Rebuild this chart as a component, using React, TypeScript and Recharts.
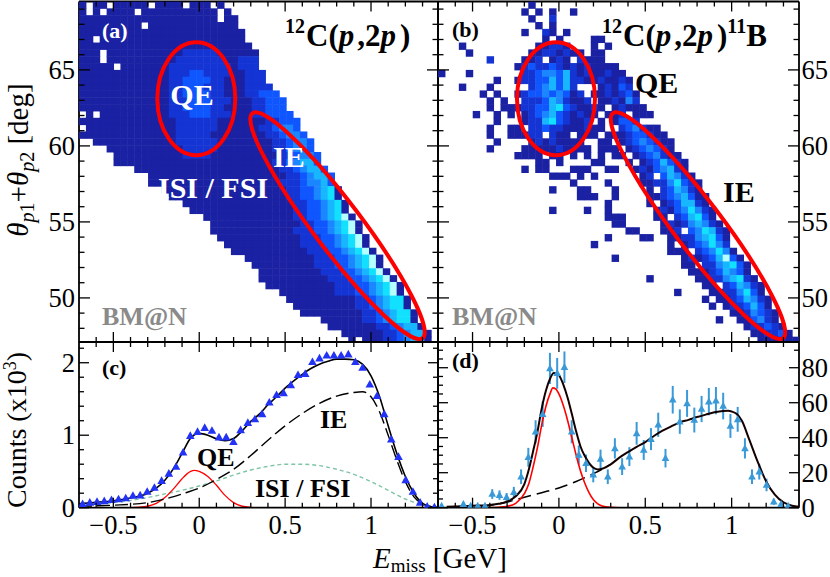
import React from 'react';
import {ComposedChart, Scatter, Line, XAxis, YAxis, ReferenceDot, ErrorBar} from 'recharts';

const W = 830;
const H = 577;
const FONT = "'Liberation Serif', 'Times New Roman', serif";

// panel edges in page pixels
const LEFT = 79;
const MID = 438;
const RIGHT = 799;
const TOP = 1.5;
const SPLIT = 342;
const BOTTOM = 507.7;

const E_MIN = -0.7;
const E_MAX = 1.39;
const TH_MIN = 47.1;
const TH_MAX = 69.5;
const E_BIN = 0.0402;
const TH_BIN = 0.45;

const X_TICKS = [-0.6, -0.5, -0.4, -0.3, -0.2, -0.1, 0, 0.1, 0.2, 0.3, 0.4, 0.5, 0.6, 0.7, 0.8, 0.9, 1, 1.1, 1.2, 1.3];
const X_MAJOR = [-0.5, 0, 0.5, 1];
const TH_TICKS = [48, 49, 50, 51, 52, 53, 54, 55, 56, 57, 58, 59, 60, 61, 62, 63, 64, 65, 66, 67, 68, 69];
const TH_MAJOR = [50, 55, 60, 65];
const C_TICKS = [0, 0.2, 0.4, 0.6, 0.8, 1, 1.2, 1.4, 1.6, 1.8, 2, 2.2];
const C_MAJOR = [0, 1, 2];
const D_TICKS_L = [0, 5, 10, 15, 20, 25, 30, 35, 40, 45, 50, 55, 60, 65, 70, 75, 80, 85, 90];
const D_TICKS_R = [0, 10, 20, 30, 40, 50, 60, 70, 80, 90];
const D_MAJOR = [0, 20, 40, 60, 80];

// colour levels of the 2D histograms ('.' = empty bin)
const PALETTE = ['#ffffff', '#1a21a3', '#1434d4', '#0f56ff', '#1a86ff', '#18b6ff', '#12e0ff', '#b4ffff'];

// 12C(p,2p): one string per theta row (top row first), 0.04 GeV columns in groups of ten
const MAP_A = [
  '1.11.11111 .1111.111. 1',
  '1.1.1111.1 1111111111 .1',
  '1111111111 1111111111 .11',
  '111111111. 1111111111 111',
  '1111111111 1111111111 1111',
  '11.1111111 1111111111 1111',
  '1111111111 1111111111 11111',
  '111.111111 1111122222 111111',
  '111.111111 1111222222 211222',
  '11111.1111 1112222222 221222',
  '1111111111 1112223322 2211222',
  '1111111111 1112233332 2111222',
  '1111111111 1112233322 21112222',
  '1111111111 1112233332 211122333',
  '1111111111 1112223332 2211122333',
  '1111111111 1112233332 2111122333',
  '.1.1111111 1112223332 2211122333 3',
  '1111111111 1111222222 1111111223 33',
  '.111111111 1111222222 1111112234 43',
  '1111111111 1111222221 1111111223 443',
  '..11111111 1111222222 1111111122 3443',
  '....111111 1111122222 1111111122 3443',
  '.....11111 1111122221 1111111112 23443',
  '.....11111 1111111111 1111111122 34553',
  '........11 1111111111 1111111112 234553',
  '.......... 1111111111 1111111111 2234553',
  '.......... 1111111111 1111111112 2234453',
  '.......... ..11111111 1111111111 22334561',
  '.......... ...1111111 1111111111 22334561',
  '.......... .....11111 1111111111 122334561',
  '.......... ......1111 1111111111 122334561',
  '.......... ........11 1111111111 1223345671',
  '.......... .........1 1111111111 1122334567 1',
  '.......... .........1 1111111111 1222334567 1',
  '.......... .......... 1111111111 1122233456 71',
  '.......... .......... .111111111 1122233456 71',
  '.......... .......... ..11111111 1112223345 671',
  '.......... .......... ....111111 1111222334 5671',
  '.......... .......... .....11111 1111222334 5671',
  '.......... .......... ......1111 1111122233 45671',
  '.......... .......... ......1111 1111112223 345671',
  '.......... .......... .......111 1111111222 3345671',
  '.......... .......... .........1 1111111222 3345671',
  '.......... .......... .......... 1111111111 22345661',
  '.......... .......... .......... .111111111 22345661',
  '.......... .......... .......... ..11111111 122345661',
  '.......... .......... .......... .....11111 122345661',
  '.......... .......... .......... ......1111 1112234551',
  '.......... .......... .......... ........11 1111223455 1',
  '.......... .......... .......... .........1 .111223455 1',
];

// 12C(p,2p)11B
const MAP_B = [
  '.......... ...1',
  '.......... ..1.1.1..1',
  '.......... ...1..2',
  '.......... ....1.1',
  '.......... ..1..21.1',
  '.......... .....1.1.. ..11',
  '...1...... ....11221. ..1.1',
  '....1..... ...1122121 1.11',
  '.......2.. ..112.121. 2111',
  '.......... .123223212 121111',
  '1...1..... ..22344352 1211211',
  '........1. .122335352 21121121',
  '...1...1.. ...2345352 ...12132',
  '......1.1. .123343431 2.1121231',
  '.......1.1 ..22235421 12.112142',
  '.......1.1 1122335632 1121.12111',
  '.....1..1. 1.12345321 211.112.11 1',
  '........1. ..12256321 12.1.1332.',
  '.......1.. 11.2232211 1211..2342 11',
  '.......1.. 11122.211. 111.111233 211',
  '........1. ...1212111 1..11.1234 3211',
  '.......1.. ..11111211 11.111.123 4321',
  '.......... .1111.11.1 .1.1.11.12 34211',
  '.......... ....11.1.. ..11...1.1 235321',
  '.......... ..1.11...1 11..11..12 134521',
  '.......... ......111. 1.1......1 2.35421',
  '.......... .........1 ....1....1 12246321',
  '.......... ......1... 11...1.... 1.235421',
  '.......... .......... 111..1.... 112345311',
  '.......... .......... ....1..... 1.1235521',
  '.......... ......1... .1..1..... .121346421',
  '.......... .......... ....111... .11.235631',
  '.......... .......... .....11... ..12124542 1',
  '.......... .......... .......11. ..112.3465 21',
  '.......... .......... ....1....1 1..1122456 31',
  '.......... .......... ..1....... ...1.12346 42',
  '.......... .......... .......... ...111.234 641',
  '.......... .......... .....1.... .....12123 5731',
  '.......... .......... .......... .....11.22 45631',
  '.......... .......... .......... ......1112 35431',
  '.......... .......... .......... 1......112 245621',
  '.......... .......... .......... ........11 .235421',
  '.......... .......... .......... ....1....1 1224631',
  '.......... .......... .......... ........1. 11235421',
  '.......... .......... .......... .........1 .1223531',
  '.......... .......... .......... .......... ..1124321',
  '.......... .......... .......... .......... 1..113421',
  '.......... .......... .......... .......... ....122321',
  '.......... .......... .......... .......... .....11223 1',
  '.......... .......... .......... .......... ......1112 11',
];

// 1D projections: bin centres and contents
const BIN_E = [
  -0.679, -0.637, -0.595, -0.553, -0.511, -0.47, -0.428, -0.386, -0.344, -0.303,
  -0.261, -0.219, -0.177, -0.135, -0.094, -0.052, -0.01, 0.032, 0.074, 0.115,
  0.157, 0.199, 0.241, 0.283, 0.324, 0.366, 0.408, 0.45, 0.491, 0.533,
  0.575, 0.617, 0.659, 0.7, 0.742, 0.784, 0.826, 0.868, 0.909, 0.951,
  0.993, 1.035, 1.077, 1.118, 1.16, 1.202, 1.244, 1.286, 1.327, 1.369,
];
const COUNTS_C = [
  0.05, 0.07, 0.08, 0.09, 0.105, 0.115, 0.13, 0.165, 0.17, 0.22,
  0.275, 0.37, 0.47, 0.565, 0.76, 0.99, 1.045, 1.1, 1.06, 0.97,
  0.97, 0.905, 1.07, 1.17, 1.22, 1.29, 1.45, 1.555, 1.58, 1.69,
  1.83, 1.845, 2.01, 2.06, 2.1, 2.1, 2.1, 2.115, 2.01, 1.93,
  1.7, 1.54, 1.29, 0.94, 0.7, 0.38, 0.22, 0.07, 0.015, 0.005,
];
const COUNTS_D = [
  1, null, null, 2, 1, 1, 1, 7.8, 7.2, 6,
  8.9, 17.7, 28.8, 43.4, 53.5, 79.6, 76.8, 80.3, 43.4, 30.1,
  25.4, 18.8, 27.9, 17.7, 33.9, 23.5, 29.2, 42.5, 33, 39.2,
  47.4, 28.3, 61.7, 49.2, 59.6, 50.1, 56.4, 60.6, 61.2, 58.1,
  46.7, 50.5, 33.9, 17.7, 20.6, 13, 3.4, 2, 1, null,
];
const ERR_D = [
  1, 0, 0, 1.4, 1, 1, 1, 2.8, 2.7, 2.4,
  3, 4.2, 5.4, 6.6, 7.3, 8.9, 8.8, 9, 6.6, 5.5,
  5, 4.3, 5.3, 4.2, 5.8, 4.8, 5.4, 6.5, 5.7, 6.3,
  6.9, 5.3, 7.9, 7, 7.7, 7.1, 7.5, 7.8, 7.8, 7.6,
  6.8, 7.1, 5.8, 4.2, 4.5, 3.6, 1.8, 1.4, 1, 0,
];

// fit curves of panel (c), counts x10^3
const C_TOTAL_E = [-0.7, -0.6, -0.5, -0.4, -0.3, -0.25, -0.2, -0.15, -0.1, -0.05, 0, 0.05, 0.1, 0.15, 0.2, 0.25, 0.3, 0.35, 0.4, 0.45, 0.5, 0.55, 0.6, 0.65, 0.7, 0.75, 0.8, 0.85, 0.9, 0.95, 1.0, 1.05, 1.1, 1.15, 1.2, 1.25, 1.3, 1.35, 1.39];
const C_TOTAL = [0.055, 0.074, 0.097, 0.133, 0.2, 0.27, 0.38, 0.54, 0.75, 0.96, 1.025, 1.0, 0.95, 0.925, 0.955, 1.06, 1.19, 1.29, 1.42, 1.53, 1.65, 1.75, 1.84, 1.92, 1.98, 2.02, 2.05, 2.05, 2.04, 1.98, 1.82, 1.53, 1.13, 0.75, 0.43, 0.2, 0.06, 0.014, 0.004];
const C_IE_E = [-0.7, -0.5, -0.3, -0.2, -0.1, 0, 0.1, 0.2, 0.3, 0.4, 0.5, 0.6, 0.7, 0.8, 0.9, 0.95, 1.0, 1.05, 1.1, 1.15, 1.2, 1.25, 1.3, 1.35, 1.39];
const C_IE = [0.02, 0.035, 0.07, 0.12, 0.19, 0.27, 0.39, 0.53, 0.72, 0.93, 1.13, 1.3, 1.44, 1.54, 1.59, 1.6, 1.53, 1.32, 1.0, 0.66, 0.36, 0.15, 0.05, 0.012, 0.003];
const C_QE_E = [-0.7, -0.4, -0.35, -0.3, -0.25, -0.2, -0.15, -0.1, -0.05, -0.03, 0, 0.05, 0.1, 0.15, 0.2, 0.25, 0.3, 0.35];
const C_QE = [0, 0.002, 0.006, 0.02, 0.06, 0.14, 0.26, 0.4, 0.5, 0.515, 0.5, 0.43, 0.31, 0.17, 0.07, 0.02, 0.005, 0];
const C_ISI_E = [-0.7, -0.6, -0.5, -0.4, -0.3, -0.2, -0.1, 0, 0.1, 0.2, 0.3, 0.4, 0.5, 0.6, 0.7, 0.8, 0.9, 1.0, 1.1, 1.2, 1.3, 1.39];
const C_ISI = [0.035, 0.05, 0.07, 0.1, 0.14, 0.19, 0.24, 0.3, 0.37, 0.45, 0.52, 0.57, 0.6, 0.6, 0.58, 0.53, 0.46, 0.36, 0.24, 0.12, 0.04, 0.005];

// fit curves of panel (d), counts
const D_TOTAL_E = [-0.65, -0.5, -0.4, -0.35, -0.3, -0.25, -0.2, -0.175, -0.15, -0.125, -0.1, -0.075, -0.05, -0.03, -0.01, 0, 0.025, 0.05, 0.075, 0.1, 0.125, 0.15, 0.175, 0.2, 0.225, 0.25, 0.3, 0.35, 0.4, 0.45, 0.5, 0.55, 0.6, 0.65, 0.7, 0.75, 0.8, 0.85, 0.9, 0.95, 0.98, 1.0, 1.03, 1.06, 1.1, 1.15, 1.2, 1.25, 1.3, 1.35, 1.39];
const D_TOTAL = [0.6, 1.1, 1.6, 2.2, 3.5, 6.5, 13.5, 21.5, 32, 43, 56.5, 67, 74, 77, 76.5, 75.8, 70.5, 63, 53.5, 43.5, 35, 29.5, 25.5, 22.8, 21.9, 22.3, 24.8, 28.6, 31.8, 34.8, 37.5, 41, 44, 46.5, 48.8, 50.2, 51.8, 53.2, 54.5, 55.3, 55.4, 55, 53.5, 49.5, 39.5, 26.5, 15, 7.5, 3.1, 1.1, 0.5];
const D_QE_E = [-0.64, -0.4, -0.35, -0.3, -0.25, -0.2, -0.175, -0.15, -0.125, -0.1, -0.075, -0.05, -0.035, -0.02, 0, 0.025, 0.05, 0.075, 0.1, 0.125, 0.15, 0.175, 0.2, 0.225, 0.25, 0.3, 0.35, 1.39];
const D_QE = [0, 0.1, 0.3, 0.8, 2.5, 8, 13.5, 23, 34, 47, 58, 65.5, 68.5, 68, 65, 58.5, 50, 40, 30, 21, 14, 8.5, 4.5, 2.2, 1, 0.2, 0, 0];
const D_IE_E = [-0.45, -0.4, -0.3, -0.2, -0.1, 0, 0.1, 0.2, 0.25, 0.3];
const D_IE = [0.8, 1.3, 3.2, 6, 8.6, 11.3, 15, 19.5, 22, 24.8];

const pairs = (xs: number[], ys: number[]) => xs.map((x, i) => ({x, y: ys[i]}));

function parseMap(rows: string[]) {
  const cells: {x: number; y: number; lvl: number}[] = [];
  rows.forEach((row, r) => {
    const s = row.replace(/ /g, '');
    for (let c = 0; c < s.length; c++) {
      if (s[c] === '.') continue;
      cells.push({x: E_MIN + (c + 0.5) * E_BIN, y: TH_MAX - (r + 0.5) * TH_BIN, lvl: Number(s[c])});
    }
  });
  return cells;
}

const cellsA = parseMap(MAP_A);
const cellsB = parseMap(MAP_B);
const pointsC = BIN_E.map((x, i) => ({x, y: COUNTS_C[i]}));
const pointsD = BIN_E.map((x, i) => ({x, y: COUNTS_D[i], err: ERR_D[i]})).filter(p => p.y !== null);

type Side = 'bottom' | 'top' | 'left' | 'right';
const isMajor = (v: number, majors: number[]) => majors.some(m => Math.abs(m - v) < 1e-6);
const fmt = (v: number) => (v < 0 ? '\u2212' + Math.abs(v) : String(v));
const TICK_FONT = {fontFamily: FONT, fontSize: 26.5, fill: '#000'};

function makeTick(side: Side, majors: number[], len: number, withLabel: boolean) {
  return (props: any) => {
    const {x, y, payload} = props;
    const v = payload.value as number;
    const major = isMajor(v, majors);
    const L = major ? len : len * 0.5;
    const x2 = side === 'left' ? x + L : side === 'right' ? x - L : x;
    const y2 = side === 'bottom' ? y - L : side === 'top' ? y + L : y;
    let label = null;
    if (withLabel && major) {
      if (side === 'bottom') label = <text x={x} y={y + 26.5} textAnchor="middle" {...TICK_FONT}>{fmt(v)}</text>;
      if (side === 'left') label = <text x={x - 4} y={y + 9} textAnchor="end" {...TICK_FONT}>{fmt(v)}</text>;
      if (side === 'right') label = <text x={x + 2.5} y={y + 9} textAnchor="start" {...TICK_FONT}>{fmt(v)}</text>;
    }
    return (
      <g>
        <line x1={x} y1={y} x2={x2} y2={y2} stroke="#000" strokeWidth={1.3} />
        {label}
      </g>
    );
  };
}

// axes get 1px of room (an axis of zero size is not drawn), taken out of the margins
function Panel({edges, yDomain, yTicksL, yTicksR, yMajor, yLen, xLabels, yLabelSide, children}: any) {
  const margin = {left: edges.left - 1, right: W - edges.right - 1, top: edges.top - 1, bottom: H - edges.bottom - 1};
  const common = {
    type: 'number' as const,
    allowDataOverflow: true,
    interval: 0 as const,
    tickSize: 0,
    tickMargin: 0,
    tickLine: false,
    axisLine: {stroke: '#000', strokeWidth: 1.8},
  };
  return (
    <div style={{position: 'absolute', left: 0, top: 0}}>
      <ComposedChart width={W} height={H} margin={margin}>
        <XAxis xAxisId="b" dataKey="x" orientation="bottom" height={1} domain={[E_MIN, E_MAX]} ticks={X_TICKS}
          tick={makeTick('bottom', X_MAJOR, 10, xLabels)} {...common} />
        <XAxis xAxisId="t" dataKey="x" orientation="top" height={1} domain={[E_MIN, E_MAX]} ticks={X_TICKS}
          tick={makeTick('top', X_MAJOR, 10, false)} {...common} />
        <YAxis yAxisId="l" orientation="left" width={1} domain={yDomain} ticks={yTicksL}
          tick={makeTick('left', yMajor, yLen, yLabelSide === 'left')} {...common} />
        <YAxis yAxisId="r" orientation="right" width={1} domain={yDomain} ticks={yTicksR}
          tick={makeTick('right', yMajor, yLen, yLabelSide === 'right')} {...common} />
        {children}
      </ComposedChart>
    </div>
  );
}

const cellShape = (plotW: number) => {
  const cw = (plotW * E_BIN) / (E_MAX - E_MIN);
  const ch = ((SPLIT - TOP) * TH_BIN) / (TH_MAX - TH_MIN);
  return (p: any) => (
    <rect x={p.cx - cw / 2} y={p.cy - ch / 2} width={cw + 0.5} height={ch + 0.5} fill={PALETTE[p.payload.lvl]} />
  );
};

const qeEllipse = (p: any) => (
  <ellipse cx={p.cx} cy={p.cy} rx={39} ry={56.5} fill="none" stroke="#ff0000" strokeWidth={4} />
);
const ieEllipse = (p: any) => (
  <ellipse cx={p.cx} cy={p.cy} rx={141} ry={24} transform={`rotate(52.9 ${p.cx} ${p.cy})`}
    fill="none" stroke="#ff0000" strokeWidth={4} />
);

const triC = (p: any) => (
  <polygon points={`${p.cx},${p.cy - 4.6} ${p.cx - 4.3},${p.cy + 3} ${p.cx + 4.3},${p.cy + 3}`} fill="#2233f5" />
);
const triD = (p: any) => (
  <polygon points={`${p.cx},${p.cy - 4.2} ${p.cx - 3.8},${p.cy + 2.8} ${p.cx + 3.8},${p.cy + 2.8}`} fill="#3a9ad8" />
);

function map2D(cells: any[], plotW: number) {
  return [
    <Scatter key="cells" xAxisId="b" yAxisId="l" data={cells} dataKey="y" shape={cellShape(plotW)} isAnimationActive={false} />,
    <ReferenceDot key="qe" xAxisId="b" yAxisId="l" x={-0.017} y={63.1} ifOverflow="hidden" shape={qeEllipse} />,
    <ReferenceDot key="ie" xAxisId="b" yAxisId="l" x={0.805} y={54.75} ifOverflow="hidden" shape={ieEllipse} />,
  ];
}

const bold = {fontFamily: FONT, fontWeight: 'bold' as const};

export default function App() {
  return (
    <div style={{position: 'absolute', left: 0, top: 0, width: W, height: H, background: '#fff', overflow: 'hidden'}}>
      <Panel edges={{left: LEFT, right: MID, top: TOP, bottom: SPLIT}} yDomain={[TH_MIN, TH_MAX]} yTicksL={TH_TICKS}
        yTicksR={TH_TICKS} yMajor={TH_MAJOR} yLen={11} xLabels={false} yLabelSide="left">
        {map2D(cellsA, MID - LEFT)}
      </Panel>
      <Panel edges={{left: MID, right: RIGHT, top: TOP, bottom: SPLIT}} yDomain={[TH_MIN, TH_MAX]} yTicksL={TH_TICKS}
        yTicksR={TH_TICKS} yMajor={TH_MAJOR} yLen={11} xLabels={false} yLabelSide="right">
        {map2D(cellsB, RIGHT - MID)}
      </Panel>
      <Panel edges={{left: LEFT, right: MID, top: SPLIT, bottom: BOTTOM}} yDomain={[0, 2.286]} yTicksL={C_TICKS}
        yTicksR={C_TICKS} yMajor={C_MAJOR} yLen={10} xLabels={true} yLabelSide="left">
        <Line xAxisId="b" yAxisId="l" data={pairs(C_ISI_E, C_ISI)} dataKey="y" type="monotone" dot={false}
          stroke="#7fc4a4" strokeWidth={1.4} strokeDasharray="4 3" isAnimationActive={false} />
        <Line xAxisId="b" yAxisId="l" data={pairs(C_QE_E, C_QE)} dataKey="y" type="monotone" dot={false}
          stroke="#ff0000" strokeWidth={1.3} isAnimationActive={false} />
        <Line xAxisId="b" yAxisId="l" data={pairs(C_IE_E, C_IE)} dataKey="y" type="monotone" dot={false}
          stroke="#000" strokeWidth={1.4} strokeDasharray="13 5" isAnimationActive={false} />
        <Line xAxisId="b" yAxisId="l" data={pairs(C_TOTAL_E, C_TOTAL)} dataKey="y" type="monotone" dot={false}
          stroke="#000" strokeWidth={1.6} isAnimationActive={false} />
        <Scatter xAxisId="b" yAxisId="l" data={pointsC} dataKey="y" shape={triC} isAnimationActive={false} />
      </Panel>
      <Panel edges={{left: MID, right: RIGHT, top: SPLIT, bottom: BOTTOM}} yDomain={[0, 94.7]} yTicksL={D_TICKS_L}
        yTicksR={D_TICKS_R} yMajor={D_MAJOR} yLen={10} xLabels={true} yLabelSide="right">
        <Scatter xAxisId="b" yAxisId="l" data={pointsD} dataKey="y" shape={triD} isAnimationActive={false}>
          <ErrorBar dataKey="err" direction="y" width={0} stroke="#3a9ad8" strokeWidth={2} />
        </Scatter>
        <Line xAxisId="b" yAxisId="l" data={pairs(D_IE_E, D_IE)} dataKey="y" type="monotone" dot={false}
          stroke="#000" strokeWidth={1.5} strokeDasharray="13 6" isAnimationActive={false} />
        <Line xAxisId="b" yAxisId="l" data={pairs(D_QE_E, D_QE)} dataKey="y" type="monotone" dot={false}
          stroke="#ff0000" strokeWidth={1.6} isAnimationActive={false} />
        <Line xAxisId="b" yAxisId="l" data={pairs(D_TOTAL_E, D_TOTAL)} dataKey="y" type="monotone" dot={false}
          stroke="#140000" strokeWidth={2} isAnimationActive={false} />
      </Panel>

      <svg width={W} height={H} style={{position: 'absolute', left: 0, top: 0, pointerEvents: 'none'}}>
        {/* panel (a) */}
        <text x={102} y={38} fontSize={22} fill="#fff" {...bold}>(a)</text>
        <text x={285} y={46} fontSize={31} fill="#000" {...bold}>
          <tspan fontSize={20} dy={-13}>12</tspan>
          <tspan dy={13} dx={1}>C(</tspan>
          <tspan fontStyle="italic">p</tspan>
          <tspan dx={3}>,2</tspan>
          <tspan fontStyle="italic">p</tspan>
          <tspan dx={4}>)</tspan>
        </text>
        <text x={192} y={105} fontSize={30} fill="#fff" textAnchor="middle" {...bold}>QE</text>
        <text x={273} y={167} fontSize={30} fill="#fff" {...bold}>IE</text>
        <text x={158} y={198} fontSize={30} fill="#fff" {...bold}>ISI / FSI</text>
        <text x={102} y={325} fontSize={26} fill="#8a8a8a" {...bold}>BM@N</text>

        {/* panel (b) */}
        <text x={452} y={37} fontSize={22} fill="#000" {...bold}>(b)</text>
        <text x={602} y={46} fontSize={31} fill="#000" {...bold}>
          <tspan fontSize={20} dy={-13}>12</tspan>
          <tspan dy={13} dx={1}>C(</tspan>
          <tspan fontStyle="italic">p</tspan>
          <tspan dx={3}>,2</tspan>
          <tspan fontStyle="italic">p</tspan>
          <tspan dx={4}>)</tspan>
          <tspan fontSize={20} dy={-13}>11</tspan>
          <tspan dy={13}>B</tspan>
        </text>
        <text x={635} y={93} fontSize={30} fill="#000" {...bold}>QE</text>
        <text x={723} y={202} fontSize={30} fill="#000" {...bold}>IE</text>
        <text x={452} y={325} fontSize={26} fill="#8a8a8a" {...bold}>BM@N</text>

        {/* panel (c) */}
        <text x={102} y={375} fontSize={22} fill="#000" {...bold}>(c)</text>
        <text x={197} y={466} fontSize={26} fill="#000" {...bold}>QE</text>
        <text x={320} y={428} fontSize={26} fill="#000" {...bold}>IE</text>
        <text x={255} y={497} fontSize={26} fill="#000" {...bold}>ISI / FSI</text>

        {/* panel (d) */}
        <text x={452} y={368} fontSize={22} fill="#000" {...bold}>(d)</text>

        {/* axis titles */}
        <text transform="translate(28,160) rotate(-90)" textAnchor="middle" fontSize={29} fontFamily={FONT} fill="#000">
          <tspan fontStyle="italic">θ</tspan>
          <tspan fontSize={20} dy={6} fontStyle="italic">p</tspan>
          <tspan fontSize={20}>1</tspan>
          <tspan dy={-6}>+</tspan>
          <tspan fontStyle="italic">θ</tspan>
          <tspan fontSize={20} dy={6} fontStyle="italic">p</tspan>
          <tspan fontSize={20}>2</tspan>
          <tspan dy={-6}> [deg]</tspan>
        </text>
        <text transform="translate(26,430) rotate(-90)" textAnchor="middle" fontSize={28} fontFamily={FONT} fill="#000">
          Counts (x10<tspan fontSize={18} dy={-10}>3</tspan><tspan dy={10}>)</tspan>
        </text>
        <text x={373} y={568} fontSize={29} fontFamily={FONT} fill="#000">
          <tspan fontStyle="italic">E</tspan>
          <tspan fontSize={19} dy={4}>miss</tspan>
          <tspan dy={-4}> [GeV]</tspan>
        </text>
      </svg>
    </div>
  );
}
